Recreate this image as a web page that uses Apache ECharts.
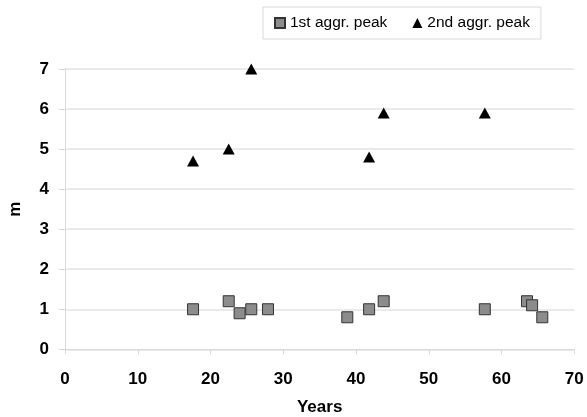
<!DOCTYPE html>
<html>
<head>
<meta charset="utf-8">
<script src="https://cdn.jsdelivr.net/npm/echarts@6/dist/echarts.min.js"></script>
<style>
html,body{margin:0;padding:0;background:#fff;}
#c{width:587px;height:417px;}
</style>
</head>
<body>
<div id="c"></div>
<script>
// Data
var firstPeakYears = [17.6, 22.5, 24.0, 25.6, 27.9, 38.8, 41.8, 43.8, 57.7, 63.5, 64.2, 65.6];
var firstPeakM     = [1.0, 1.2, 0.9, 1.0, 1.0, 0.8, 1.0, 1.2, 1.0, 1.2, 1.1, 0.8];
var secondPeakYears = [17.6, 22.5, 25.6, 41.8, 43.8, 57.7];
var secondPeakM     = [4.7, 5.0, 7.0, 4.8, 5.9, 5.9];
var xTicks = [0, 10, 20, 30, 40, 50, 60, 70];
var yTicks = [0, 1, 2, 3, 4, 5, 6, 7];
var seriesNames = ['1st aggr. peak', '2nd aggr. peak'];

function pairs(xs, ys) { return xs.map(function (x, i) { return [x, ys[i]]; }); }

var chart = echarts.init(document.getElementById('c'), null, {renderer: 'canvas'});
var font = 'Liberation Sans, Arial, sans-serif';
chart.setOption({
  animation: false,
  backgroundColor: '#ffffff',
  grid: {left: 65, right: 12.7, top: 69, bottom: 67.7, containLabel: false, outerBoundsMode: 'none'},
  legend: {
    top: 7, left: 263,
    itemWidth: 10, itemHeight: 10, itemGap: 25,
    padding: [8, 11, 8, 11],
    borderColor: '#d9d9d9', borderWidth: 1,
    textStyle: {fontFamily: font, fontSize: 15.5, color: '#000'},
    data: seriesNames
  },
  xAxis: {
    type: 'value', min: xTicks[0], max: xTicks[xTicks.length - 1], interval: 10,
    name: 'Years', nameLocation: 'middle', nameGap: 50,
    nameTextStyle: {fontFamily: font, fontSize: 17, fontWeight: 'bold', color: '#000'},
    axisLine: {show: true, onZero: false, lineStyle: {color: '#d9d9d9', width: 1}},
    axisTick: {show: true, inside: false, length: 5, lineStyle: {color: '#d9d9d9'}},
    axisLabel: {margin: 22, fontFamily: font, fontSize: 17, fontWeight: 'bold', color: '#000'},
    splitLine: {show: false}
  },
  yAxis: {
    type: 'value', min: yTicks[0], max: yTicks[yTicks.length - 1], interval: 1,
    name: 'm', nameLocation: 'middle', nameGap: 41, nameRotate: 90,
    nameTextStyle: {fontFamily: font, fontSize: 17, fontWeight: 'bold', color: '#000'},
    axisLine: {show: true, lineStyle: {color: '#d9d9d9', width: 1}},
    axisTick: {show: true, inside: false, length: 6, lineStyle: {color: '#d9d9d9'}},
    axisLabel: {margin: 16, fontFamily: font, fontSize: 17, fontWeight: 'bold', color: '#000'},
    splitLine: {show: true, lineStyle: {color: '#e3e3e3', width: 1.5}}
  },
  series: [
    {
      name: seriesNames[0], type: 'scatter', symbol: 'rect', symbolSize: 11,
      itemStyle: {color: '#8c8c8c', borderColor: '#333333', borderWidth: 1, opacity: 1},
      data: pairs(firstPeakYears, firstPeakM)
    },
    {
      name: seriesNames[1], type: 'scatter', symbol: 'triangle', symbolSize: [12, 11],
      itemStyle: {color: '#000000', opacity: 1},
      data: pairs(secondPeakYears, secondPeakM)
    }
  ]
});
</script>
</body>
</html>
